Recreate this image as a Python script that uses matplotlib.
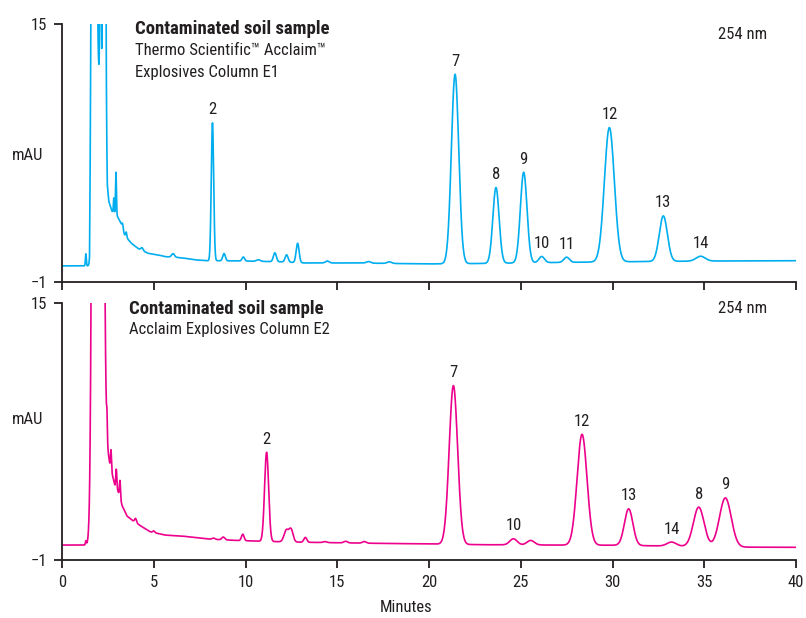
import numpy as np
import matplotlib
matplotlib.use("Agg")
import matplotlib.pyplot as plt
from matplotlib import font_manager

# ---------------- data ----------------
x_ticks = [0, 5, 10, 15, 20, 25, 30, 35, 40]
y_ticks = [-1, 15]
y_tick_labels = ["\u22121", "15"]

# --- E1 column (top) ---
e1_peak_time   = [1.30, 1.75, 2.095, 2.30, 2.82, 2.94, 3.30, 3.50, 4.36, 6.05,
                  8.20, 8.83, 9.88, 10.70, 11.60, 12.24, 12.84, 14.46, 16.70, 17.84,
                  21.42, 23.65, 25.16, 26.14, 27.50, 29.83, 32.77, 34.80]
e1_peak_height = [0.75, 80.0, 30.0, 80.0, 0.90, 2.60, 0.30, 0.30, 0.17, 0.22,
                  8.55, 0.45, 0.25, 0.10, 0.55, 0.45, 1.20, 0.12, 0.10, 0.10,
                  11.75, 4.70, 5.62, 0.38, 0.32, 8.33, 2.82, 0.30]
e1_peak_sigma  = [0.025, 0.08, 0.025, 0.045, 0.02, 0.025, 0.03, 0.03, 0.06, 0.08,
                  0.065, 0.07, 0.07, 0.10, 0.08, 0.08, 0.08, 0.10, 0.12, 0.12,
                  0.20, 0.17, 0.18, 0.15, 0.15, 0.27, 0.22, 0.25]
e1_base_time  = [0.0, 1.50, 1.60, 2.38, 2.47, 2.55, 2.72, 2.95, 3.05, 3.23, 3.40,
                 3.63, 3.78, 4.14, 4.69, 5.27, 5.63, 6.54, 7.27, 7.90, 8.50, 10.0,
                 12.0, 13.2, 16.0, 20.0, 23.0, 26.0, 30.0, 35.0, 40.0]
e1_base_value = [0.0, 0.0, 12.0, 12.0, 5.0, 4.0, 3.4, 3.2, 3.0, 2.6, 1.95,
                 1.6, 1.4, 1.08, 0.78, 0.67, 0.57, 0.50, 0.37, 0.32, 0.32, 0.30,
                 0.25, 0.18, 0.18, 0.12, 0.15, 0.20, 0.25, 0.30, 0.32]
e1_labels = ["2", "7", "8", "9", "10", "11", "12", "13", "14"]
e1_label_time = [8.20, 21.42, 23.65, 25.16, 26.14, 27.50, 29.83, 32.77, 34.80]

# --- E2 column (bottom) ---
e2_peak_time   = [1.30, 1.95, 2.45, 2.67, 2.96, 3.16, 4.01, 5.00,
                  8.25, 8.79, 9.85, 11.15, 12.22, 12.48, 13.26, 14.33, 15.46, 16.47,
                  21.33, 24.60, 25.54, 28.34, 30.88, 33.22, 34.70, 36.15]
e2_peak_height = [0.25, 300.0, 1.3, 1.2, 1.2, 1.0, 0.25, 0.10,
                  0.08, 0.17, 0.40, 5.55, 0.72, 0.78, 0.30, 0.06, 0.10, 0.10,
                  9.88, 0.38, 0.28, 6.90, 2.28, 0.25, 2.45, 3.05]
e2_peak_sigma  = [0.025, 0.15, 0.02, 0.025, 0.03, 0.025, 0.05, 0.05,
                  0.08, 0.08, 0.07, 0.11, 0.12, 0.11, 0.08, 0.10, 0.10, 0.10,
                  0.23, 0.20, 0.20, 0.27, 0.23, 0.25, 0.29, 0.32]
e2_base_time  = [0.0, 1.50, 2.36, 2.60, 2.89, 3.13, 3.27, 3.54, 3.81, 4.36, 4.80,
                 5.63, 6.54, 7.63, 8.17, 9.50, 11.0, 13.5, 17.0, 20.0, 23.0, 27.0,
                 30.0, 33.0, 37.0, 40.0]
e2_base_value = [-0.07, -0.07, 6.5, 5.0, 3.6, 3.1, 2.4, 1.74, 1.49, 1.07, 0.76,
                 0.55, 0.49, 0.35, 0.29, 0.22, 0.16, 0.10, 0.04, 0.0, -0.05, -0.07,
                 -0.08, -0.13, -0.20, -0.21]
e2_labels = ["2", "7", "10", "12", "13", "14", "8", "9"]
e2_label_time = [11.15, 21.33, 24.60, 28.34, 30.88, 33.22, 34.70, 36.15]

# ---------------- styling ----------------
avail = {f.name for f in font_manager.fontManager.ttflist}
fam = [f for f in ["Liberation Sans Narrow", "Roboto Condensed", "Liberation Sans", "DejaVu Sans"] if f in avail]
plt.rcParams["font.family"] = fam
TXT = "#231f20"
C1 = "#00aeef"
C2 = "#ec008c"
FS = 12
FSB = 13.5

t = np.arange(0.0, 40.0, 0.005)


def trace(ptime, pheight, psigma, btime, bvalue):
    y = np.interp(t, btime, bvalue)
    for c, h, s in zip(ptime, pheight, psigma):
        y = y + h * np.exp(-0.5 * ((t - c) / s) ** 2)
    return y


y1 = trace(e1_peak_time, e1_peak_height, e1_peak_sigma, e1_base_time, e1_base_value)
y2 = trace(e2_peak_time, e2_peak_height, e2_peak_sigma, e2_base_time, e2_base_value)

fig = plt.figure(figsize=(8.06, 6.18), dpi=100)
ax1 = fig.add_axes([62 / 806, 1 - 282 / 618, 734 / 806, 258 / 618])
ax2 = fig.add_axes([62 / 806, 1 - 560 / 618, 734 / 806, 257 / 618])


def style(ax, labels_on, mau_y):
    ax.set_xlim(0, 40)
    ax.set_ylim(-1, 15)
    for s in ["top", "right"]:
        ax.spines[s].set_visible(False)
    for s in ["left", "bottom"]:
        ax.spines[s].set_linewidth(1.3)
        ax.spines[s].set_color(TXT)
    ax.set_xticks(x_ticks)
    ax.set_yticks(y_ticks)
    ax.set_yticklabels(y_tick_labels)
    ax.tick_params(axis="both", direction="out", length=6, width=1.3, color=TXT,
                   labelsize=FS, labelcolor=TXT, pad=5)
    if not labels_on:
        ax.tick_params(axis="x", labelbottom=False)
    ax.text(-0.026, mau_y, "mAU", transform=ax.transAxes, ha="right", va="center",
            fontsize=FS, color=TXT)


style(ax1, False, 0.492)
style(ax2, True, 0.545)

ax1.plot(t, y1, color=C1, lw=1.2)
ax2.plot(t, y2, color=C2, lw=1.2)


def label_peaks(ax, tr, names, times):
    for n, tm in zip(names, times):
        i = np.argmin(np.abs(t - tm))
        ax.annotate(n, (tm, tr[i]), xytext=(0, 4), textcoords="offset points",
                    ha="center", va="bottom", fontsize=FS, color=TXT)


label_peaks(ax1, y1, e1_labels, e1_label_time)
label_peaks(ax2, y2, e2_labels, e2_label_time)

# titles
ax1.text(0.0995, 1.015, "Contaminated soil sample", transform=ax1.transAxes,
         ha="left", va="top", fontsize=FSB, fontweight="bold", color=TXT)
ax1.text(0.0995, 0.928, "Thermo Scientific\u2122 Acclaim\u2122", transform=ax1.transAxes,
         ha="left", va="top", fontsize=FS, color=TXT)
ax1.text(0.0995, 0.840, "Explosives Column E1", transform=ax1.transAxes,
         ha="left", va="top", fontsize=FS, color=TXT)
ax1.text(0.9605, 0.99, "254 nm", transform=ax1.transAxes,
         ha="right", va="top", fontsize=FS, color=TXT)

ax2.text(0.0913, 1.012, "Contaminated soil sample", transform=ax2.transAxes,
         ha="left", va="top", fontsize=FSB, fontweight="bold", color=TXT)
ax2.text(0.0913, 0.925, "Acclaim Explosives Column E2", transform=ax2.transAxes,
         ha="left", va="top", fontsize=FS, color=TXT)
ax2.text(0.9605, 1.008, "254 nm", transform=ax2.transAxes,
         ha="right", va="top", fontsize=FS, color=TXT)

fig.text(406 / 806, 1 - 607 / 618, "Minutes", ha="center", va="center",
         fontsize=FS, color=TXT)

fig.savefig("out.png", dpi=100)
